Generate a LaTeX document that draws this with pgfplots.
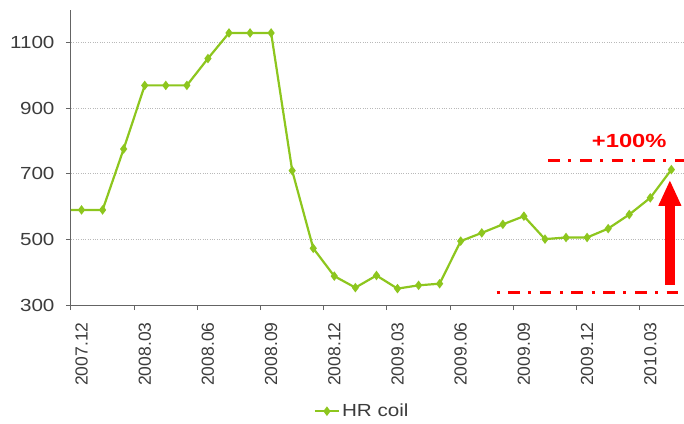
\documentclass[border=0pt]{standalone}
\usepackage{pgfplots}
\pgfplotsset{compat=1.18}
\usepackage{fontspec}
\setmainfont{Liberation Sans}
\newfontfamily\widefont[FakeStretch=1.18]{Liberation Sans}
\newfontfamily\widebold[FakeStretch=1.25]{Liberation Sans Bold}
\usetikzlibrary{arrows.meta}
\definecolor{hrgreen}{RGB}{141,198,30}
\definecolor{ticktext}{RGB}{60,60,60}
\definecolor{axisgray}{RGB}{100,100,100}
\definecolor{gridgray}{RGB}{185,185,185}
\begin{document}
\begin{tikzpicture}
\path[use as bounding box] (-71bp,-119bp) rectangle (613bp,305bp);
\begin{axis}[
  at={(0,0)}, anchor=south west,
  scale only axis, width=613bp, height=295bp,
  xmin=0, xmax=29.1, ymin=300, ymax=1200,
  axis x line*=bottom, axis y line*=left,
  axis line style={axisgray, line width=1bp},
  ytick={300,500,700,900,1100},
  xtick={0,3,...,27}, xticklabels={},
  extra x ticks={0.5,3.5,...,27.5},
  extra x tick labels={2007.12,2008.03,2008.06,2008.09,2008.12,2009.03,2009.06,2009.09,2009.12,2010.03},
  extra x tick style={major tick length=0pt},
  x tick label style={rotate=90, anchor=east, xshift=-14bp, font=\fontsize{17.5bp}{20bp}\selectfont},
  y tick label style={xshift=-8bp, font=\widefont\fontsize{17.5bp}{20bp}\selectfont},
  tick align=outside, major tick length=5bp,
  tick style={axisgray, line width=1bp},
  ymajorgrids, grid style={gridgray, dotted, line width=0.9bp},
  ticklabel style={text=ticktext},
  /pgf/number format/assume math mode=true,
  /pgf/number format/set thousands separator={},
  clip marker paths=true,
  legend style={at={(0.475,-0.36)}, anchor=center, draw=none, fill=none,
    font=\widefont\fontsize{17.5bp}{20bp}\selectfont, text=ticktext},
  legend image code/.code={\draw[#1, mark repeat=2, mark phase=2] plot coordinates {(0bp,0bp) (12bp,0bp) (24bp,0bp)};},
]
\addplot[hrgreen, line width=2.2bp, mark=diamond*, mark size=3bp,
  mark options={solid, fill=hrgreen}] coordinates {
(-0.5,590) (0.5,590) (1.5,590) (2.5,776) (3.5,970) (4.5,970) (5.5,970)
(6.5,1052) (7.5,1130) (8.5,1130) (9.5,1130) (10.5,710) (11.5,473)
(12.5,388) (13.5,353) (14.5,390) (15.5,350) (16.5,360) (17.5,365)
(18.5,495) (19.5,520) (20.5,546) (21.5,571) (22.5,501) (23.5,506)
(24.5,506) (25.5,533) (26.5,576) (27.5,627) (28.5,713)
};
\addlegendentry{HR coil}
\draw[red, line width=3bp, dash pattern=on 11.7bp off 8.5bp on 3bp off 8.5bp]
  (axis cs:22.65,742) -- (axis cs:29.1,742);
\draw[red, line width=3bp, dash pattern=on 3bp off 8.5bp on 11.7bp off 8.5bp]
  (axis cs:20.2,338) -- (axis cs:29.1,338);
\draw[red, line width=10bp, -{Triangle[width=21bp,length=26bp]}]
  (axis cs:28.43,362) -- (axis cs:28.43,682);
\node[red, font=\widebold\fontsize{19bp}{23bp}\selectfont] at (axis cs:26.5,801) {+100\%};
\end{axis}
\end{tikzpicture}
\end{document}
